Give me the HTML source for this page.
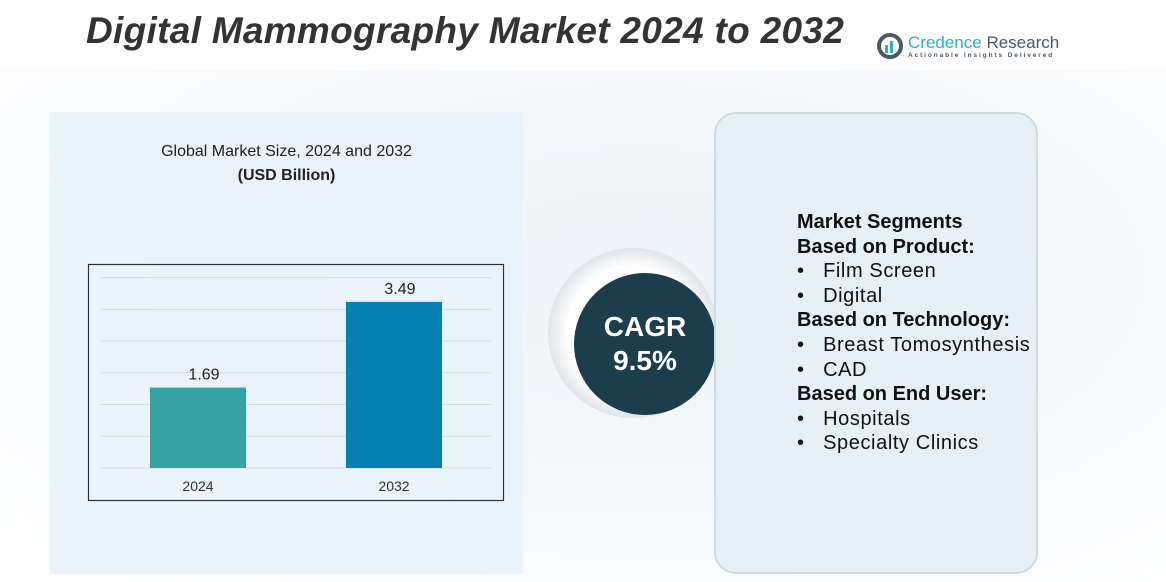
<!DOCTYPE html>
<html><head><meta charset="utf-8"><style>
body{margin:0;width:1166px;height:582px;overflow:hidden;background:#fff;font-family:"Liberation Sans",sans-serif;position:relative}
.abs{position:absolute}
</style></head><body>
<div class="abs" style="left:0;top:70px;width:1166px;height:512px;background:radial-gradient(ellipse at 55% 40%,#eef3f7 0%,#f8fafc 60%,#fff 100%)"></div>
<div class="abs" style="left:86px;top:10px;font-size:37px;font-weight:bold;font-style:italic;color:#333;letter-spacing:0.3px">Digital Mammography Market 2024 to 2032</div>
<div class="abs" style="left:876px;top:32px;width:180px;height:34px">
<svg width="30" height="30" style="position:absolute;left:0;top:0"><circle cx="14" cy="14" r="11" fill="none" stroke="#4a5b68" stroke-width="4"/><rect x="9" y="13" width="3" height="8" fill="#2ab0c8"/><rect x="14" y="9" width="3" height="12" fill="#2ab0c8"/></svg>
<div class="abs" style="left:32px;top:1px;font-size:17px;color:#2ab0c8;white-space:nowrap">Credence <span style="color:#4a5b68">Research</span></div>
<div class="abs" style="left:32px;top:20px;font-size:6.5px;letter-spacing:1.9px;color:#4a5b68;white-space:nowrap;font-weight:bold">Actionable Insights Delivered</div>
</div>
<div class="abs" style="left:50px;top:112px;width:473px;height:462px;background:rgba(232,242,250,0.85)"></div>
<div class="abs" style="left:50px;top:143px;width:473px;text-align:center;font-size:16px;color:#222">Global Market Size, 2024 and 2032</div>
<div class="abs" style="left:50px;top:167px;width:473px;text-align:center;font-size:16px;font-weight:bold;color:#222">(USD Billion)</div>
<svg class="abs" style="left:0;top:0" width="1166" height="582" id="chart">
<rect x="88.5" y="264.5" width="415" height="236" fill="none" stroke="#333" stroke-width="1.2"/>
</svg>
<div class="abs" style="left:548px;top:248px;width:170px;height:170px;border-radius:50%;background:radial-gradient(circle,#fff 55%,#d8dde2 75%,rgba(230,235,240,0) 100%)"></div>
<div class="abs" style="left:574px;top:273px;width:142px;height:142px;border-radius:50%;background:#1b3d4c;color:#fff;text-align:center;font-size:28px;font-weight:bold;line-height:34px;box-sizing:border-box;padding-top:37px">CAGR<br>9.5%</div>
<div class="abs" style="left:714px;top:112px;width:324px;height:462px;border-radius:22px;background:#e6f0f7;border:2px solid #c9dde9;box-sizing:border-box"></div>
<div class="abs" style="left:797px;top:210px;font-size:20px;letter-spacing:0.6px;color:#111;line-height:24.6px;white-space:nowrap">
<div style="font-weight:bold;letter-spacing:0">Market Segments</div>
<div style="font-weight:bold;letter-spacing:0">Based on Product:</div>
<div>•&nbsp;&nbsp;&nbsp;Film Screen</div>
<div>•&nbsp;&nbsp;&nbsp;Digital</div>
<div style="font-weight:bold;letter-spacing:0">Based on Technology:</div>
<div>•&nbsp;&nbsp;&nbsp;Breast Tomosynthesis</div>
<div>•&nbsp;&nbsp;&nbsp;CAD</div>
<div style="font-weight:bold;letter-spacing:0">Based on End User:</div>
<div>•&nbsp;&nbsp;&nbsp;Hospitals</div>
<div>•&nbsp;&nbsp;&nbsp;Specialty Clinics</div>
</div>
<script>
const categories=["2024","2032"];
const values=[1.69,3.49];
const gridTicks=[0,0.667,1.333,2,2.667,3.333,4];
const colors=["#35a3a3","#0580b0"];
const NS="http://www.w3.org/2000/svg";
const svg=document.getElementById('chart');
const y0=468,pxPer=47.6;
const y=v=>y0-v*pxPer;
const xCenter=i=>198+i*196;
const bw=96;
function mk(t,a){const e=document.createElementNS(NS,t);for(const k in a)e.setAttribute(k,a[k]);svg.appendChild(e);return e;}
gridTicks.forEach(t=>{const l=mk('line',{x1:101,x2:491,y1:y(t),y2:y(t),stroke:'#d5dbe0','stroke-width':1});

});
categories.forEach((c,i)=>{
const r=mk('rect',{x:xCenter(i)-bw/2,y:y(values[i]),width:bw,height:values[i]*pxPer,fill:colors[i]});


const v=mk('text',{x:xCenter(i)+6,y:y(values[i])-8,'text-anchor':'middle','font-size':16,fill:'#222','font-family':'Liberation Sans'});
v.textContent=values[i].toFixed(2);


const l=mk('text',{x:xCenter(i),y:491,'text-anchor':'middle','font-size':14,fill:'#333','font-family':'Liberation Sans'});
l.textContent=c;


});
</script>
</body></html>
